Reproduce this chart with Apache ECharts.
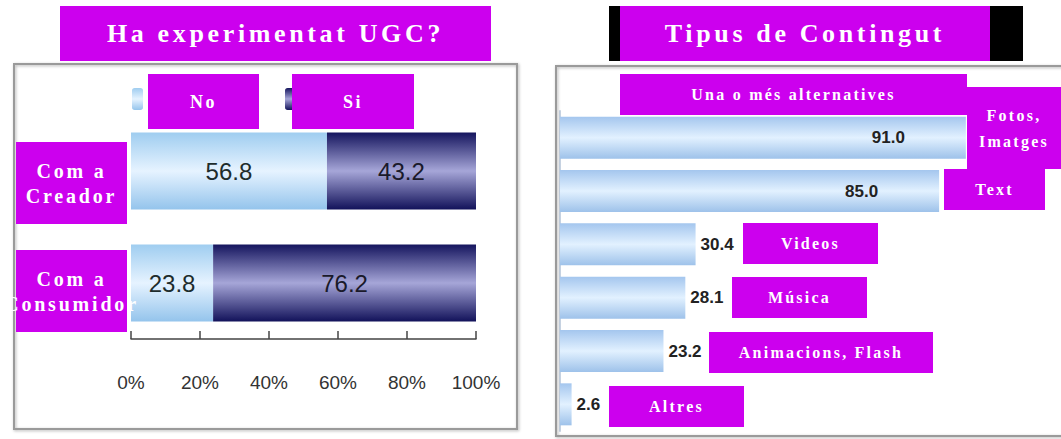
<!DOCTYPE html>
<html>
<head>
<meta charset="utf-8">
<script src="https://cdn.jsdelivr.net/npm/echarts@6/dist/echarts.min.js"></script>
<style>
html, body { margin: 0; padding: 0; background: #fff; }
#chart { width: 1061px; height: 439px; }
/* spaced-out serif captions on the magenta boxes */
#chart text[style*="Serif"] { letter-spacing: 0.14em; }
</style>
</head>
<body>
<div id="chart"></div>
<script>
// left: Ha experimentat UGC?
const ugcCats = ["Com a Creador", "Com a Consumidor"];
const noValues = [56.8, 23.8];
const siValues = [43.2, 76.2];
const pctTicks = ["0%", "20%", "40%", "60%", "80%", "100%"];

// right: Tipus de Contingut
const tipusCats = ["Fotos, Imatges", "Text", "Videos", "Música", "Animacions, Flash", "Altres"];
const tipusValues = [91.0, 85.0, 30.4, 28.1, 23.2, 2.6];

const MAG = "#cc00ee";
const SERIF = "'Liberation Serif', 'DejaVu Serif', serif";

function vgrad(a, b, c) {
    return new echarts.graphic.LinearGradient(0, 0, 0, 1, [
        { offset: 0, color: a },
        { offset: 0.5, color: b },
        { offset: 1, color: c }
    ]);
}

// magenta caption box
function box(x, y, w, h, text, size, lh) {
    return {
        type: "group",
        z: 100,
        children: [
            { type: "rect", shape: { x: x, y: y, width: w, height: h }, style: { fill: MAG }, z: 100 },
            {
                type: "text",
                z: 101,
                style: {
                    text: text,
                    x: x + w / 2,
                    y: y + h / 2,
                    align: "center",
                    verticalAlign: "middle",
                    fill: "#fff",
                    font: "bold " + size + "px " + SERIF,
                    lineHeight: lh || size + 4
                }
            }
        ]
    };
}

const chart = echarts.init(document.getElementById("chart"), null, { renderer: "svg" });

chart.setOption({
    animation: false,
    backgroundColor: "#fff",
    grid: [
        { left: 131, width: 345, top: 115, height: 224 },
        { left: 560, width: 446, top: 111, height: 320 }
    ],
    legend: [
        {
            data: ["No"], left: 127, top: 83, itemWidth: 11, itemHeight: 22,
            textStyle: { color: "#fff" }
        },
        {
            data: ["Si"], left: 280, top: 83, itemWidth: 11, itemHeight: 22,
            textStyle: { color: "#fff" }
        }
    ],
    xAxis: [
        {
            gridIndex: 0,
            type: "value",
            min: 0,
            max: 100,
            interval: 20,
            axisLine: { show: true, lineStyle: { color: "#444", width: 1.5 } },
            axisTick: { show: true, inside: true, length: 8, lineStyle: { color: "#444", width: 1.5 } },
            splitLine: { show: false },
            axisLabel: {
                margin: 34,
                color: "#333",
                fontSize: 19,
                fontFamily: "'Liberation Sans', Arial, sans-serif",
                formatter: function (v) { return pctTicks[v / 20]; }
            }
        },
        {
            gridIndex: 1,
            type: "value",
            min: 0,
            max: 100,
            show: false
        }
    ],
    yAxis: [
        {
            gridIndex: 0,
            type: "category",
            inverse: true,
            data: ugcCats,
            axisLine: { show: false },
            axisTick: { show: false },
            axisLabel: { show: false }
        },
        {
            gridIndex: 1,
            type: "category",
            inverse: true,
            data: tipusCats,
            axisLine: { show: true, lineStyle: { color: "#c8d4e4", width: 2 } },
            axisTick: { show: false },
            axisLabel: { show: false }
        }
    ],
    series: [
        {
            name: "No",
            type: "bar",
            stack: "ugc",
            xAxisIndex: 0,
            yAxisIndex: 0,
            barWidth: 77,
            data: noValues,
            itemStyle: { color: vgrad("#9fcdf0", "#e6f3ff", "#94c4ec") },
            label: {
                show: true,
                position: "inside",
                color: "#1e2c2c",
                fontSize: 24,
                fontFamily: "'Liberation Sans', Arial, sans-serif",
                formatter: function (p) { return p.value.toFixed(1); }
            }
        },
        {
            name: "Si",
            type: "bar",
            stack: "ugc",
            xAxisIndex: 0,
            yAxisIndex: 0,
            barWidth: 77,
            data: siValues,
            itemStyle: { color: vgrad("#15155e", "#a6a6d8", "#12125a") },
            label: {
                show: true,
                position: "inside",
                color: "#1a1a2a",
                fontSize: 24,
                fontFamily: "'Liberation Sans', Arial, sans-serif",
                formatter: function (p) { return p.value.toFixed(1); }
            }
        },
        {
            name: "Tipus",
            type: "bar",
            xAxisIndex: 1,
            yAxisIndex: 1,
            barWidth: 42,
            itemStyle: { color: vgrad("#a4c6ee", "#e2f1ff", "#9ec2ea") },
            label: {
                show: true,
                position: "right",
                distance: 5,
                color: "#222",
                fontWeight: "bold",
                fontSize: 17,
                fontFamily: "'Liberation Sans', Arial, sans-serif",
                formatter: function (p) { return p.value.toFixed(1); }
            },
            data: tipusValues.map(function (v) {
                // the two long bars carry their value inside
                if (v > 50) {
                    return { value: v, label: { position: "insideRight", distance: 61 } };
                }
                return v;
            })
        }
    ],
    graphic: [
        // frames
        {
            type: "rect", z: 1, silent: true,
            shape: { x: 14, y: 64, width: 503, height: 365 },
            style: { fill: "none", stroke: "#9a9a9a", lineWidth: 2, shadowBlur: 3, shadowColor: "rgba(0,0,0,0.3)", shadowOffsetX: 1, shadowOffsetY: 1 }
        },
        {
            type: "rect", z: 1, silent: true,
            shape: { x: 556, y: 66, width: 520, height: 370 },
            style: { fill: "none", stroke: "#9a9a9a", lineWidth: 2, shadowBlur: 3, shadowColor: "rgba(0,0,0,0.3)", shadowOffsetX: 1, shadowOffsetY: 1 }
        },
        // titles
        box(60, 6, 431, 55, "Ha experimentat UGC?", 26),
        { type: "rect", z: 99, shape: { x: 609, y: 6, width: 414, height: 55 }, style: { fill: "#000" } },
        box(620, 6, 370, 55, "Tipus de Contingut", 26),
        // legend captions
        box(148, 74, 111, 55, "No", 18),
        box(292, 74, 122, 55, "Si", 18),
        // left category captions
        box(16, 142, 111, 82, "Com a\nCreador", 20, 25),
        box(16, 250, 111, 82, "Com a\nConsumidor", 20, 25),
        // right captions
        box(620, 74, 347, 41, "Una o més alternatives", 16),
        box(967, 87, 94, 82, "Fotos,\nImatges", 16, 26),
        box(944, 169, 101, 41, "Text", 16),
        box(743, 223, 135, 41, "Videos", 16),
        box(732, 277, 135, 41, "Música", 16),
        box(709, 332, 224, 41, "Animacions, Flash", 16),
        box(609, 386, 135, 41, "Altres", 16)
    ]
});
</script>
</body>
</html>
